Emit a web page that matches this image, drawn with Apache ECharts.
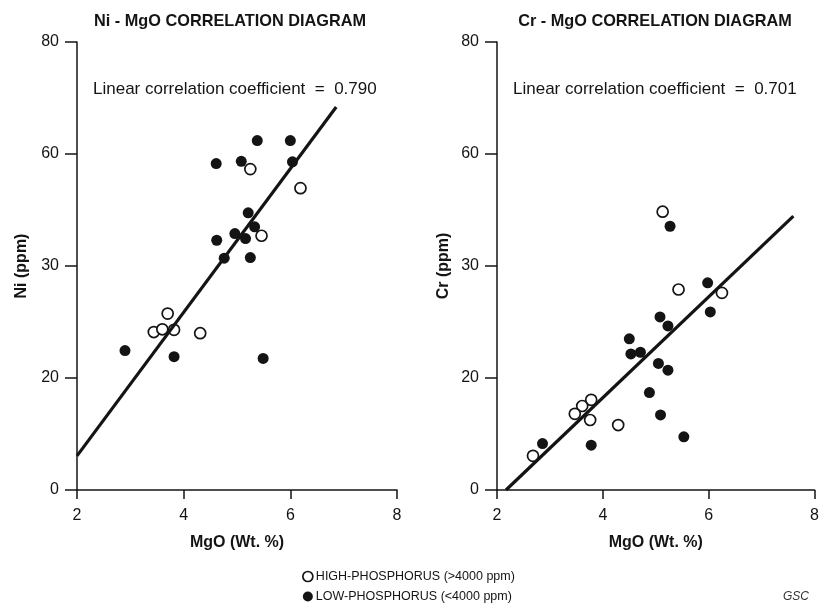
<!DOCTYPE html>
<html>
<head>
<meta charset="utf-8">
<script src="https://cdn.jsdelivr.net/npm/echarts@6/dist/echarts.min.js"></script>
<style>
html,body{margin:0;padding:0;background:#fff;}
#chart{width:822px;height:605px;}
</style>
</head>
<body>
<div id="chart"></div>
<script>
// ---- Data ----
var yTickLabels = ['0', '20', '30', '60', '80'];   // as printed on the original axes
var xTickValues = [2, 4, 6, 8];

// Ni - MgO diagram
var niHighMgO = [5.25, 6.19, 5.46, 3.70, 3.44, 3.60, 3.82, 4.31];
var niHighNi  = [57.3, 53.9, 45.4, 31.5, 28.2, 28.7, 28.6, 28.0];
var niLowMgO  = [5.38, 6.00, 4.61, 5.08, 6.04, 5.21, 5.33, 4.96, 5.16, 4.62, 4.76, 5.25, 2.90, 3.82, 5.49];
var niLowNi   = [62.4, 62.4, 58.3, 58.7, 58.6, 49.5, 47.0, 45.8, 44.9, 44.6, 41.4, 41.5, 24.9, 23.8, 23.5];
var niFitMgO  = [2.0, 6.86];
var niFitNi   = [6.1, 68.4];

// Cr - MgO diagram
var crHighMgO = [5.13, 5.43, 6.25, 3.78, 3.61, 3.47, 3.76, 4.29, 2.68];
var crHighCr  = [49.7, 35.8, 35.2, 16.1, 15.0, 13.6, 12.5, 11.6, 6.1];
var crLowMgO  = [5.27, 5.98, 6.03, 5.08, 5.23, 4.50, 4.53, 4.71, 5.05, 5.23, 4.88, 5.09, 5.53, 3.78, 2.86];
var crLowCr   = [47.1, 37.0, 31.8, 30.9, 29.3, 27.0, 24.3, 24.6, 22.6, 21.4, 17.4, 13.4, 9.5, 8.0, 8.3];
var crFitMgO  = [2.17, 7.60];
var crFitCr   = [0.0, 48.9];

var highName = 'HIGH-PHOSPHORUS (>4000 ppm)';
var lowName  = 'LOW-PHOSPHORUS (<4000 ppm)';
var titles = ['Ni - MgO CORRELATION DIAGRAM', 'Cr - MgO CORRELATION DIAGRAM'];
var corrTexts = ['Linear correlation coefficient  =  0.790', 'Linear correlation coefficient  =  0.701'];
var yNames = ['Ni (ppm)', 'Cr (ppm)'];
var xName = 'MgO (Wt. %)';

function zip(a, b) { return a.map(function (v, i) { return [v, b[i]]; }); }

var INK = '#141414';
var FONT = '"Liberation Sans", Arial, Helvetica, sans-serif';

function xAxisFor(gi) {
  return {
    gridIndex: gi, type: 'value', min: 2, max: 8, interval: 2,
    name: xName, nameLocation: 'middle', nameGap: 45,
    nameTextStyle: { fontFamily: FONT, fontSize: 16, fontWeight: 'bold', color: INK },
    axisLine: { onZero: false, lineStyle: { color: INK, width: 1.5 } },
    axisTick: { length: 9, lineStyle: { color: INK, width: 1.5 } },
    axisLabel: { margin: 18, fontFamily: FONT, fontSize: 16, color: INK,
      formatter: function (v) { return xTickValues.indexOf(v) >= 0 ? String(v) : ''; } },
    splitLine: { show: false }
  };
}
function yAxisFor(gi, nameGap) {
  return {
    gridIndex: gi, type: 'value', min: 0, max: 80, interval: 20,
    name: yNames[gi], nameLocation: 'middle', nameGap: nameGap, nameRotate: 90,
    nameTextStyle: { fontFamily: FONT, fontSize: 16, fontWeight: 'bold', color: INK },
    axisLine: { show: true, onZero: false, lineStyle: { color: INK, width: 1.5 } },
    axisTick: { show: true, length: 12, lineStyle: { color: INK, width: 1.5 } },
    axisLabel: { margin: 18, fontFamily: FONT, fontSize: 16, color: INK,
      formatter: function (v) { return yTickLabels[Math.round(v / 20)]; } },
    splitLine: { show: false }
  };
}

var openStyle = { color: '#ffffff', borderColor: INK, borderWidth: 1.7, opacity: 1 };
var filledStyle = { color: INK, borderColor: INK, borderWidth: 0, opacity: 1 };

var option = {
  backgroundColor: '#ffffff',
  animation: false,
  textStyle: { fontFamily: FONT },
  grid: [
    { left: 77, right: 822 - 397, top: 42, bottom: 605 - 490 },
    { left: 497, right: 822 - 819, top: 42, bottom: 605 - 490 }
  ],
  xAxis: [xAxisFor(0), xAxisFor(1)],
  yAxis: [yAxisFor(0, 47), yAxisFor(1, 45)],
  title: [
    { text: titles[0], left: 230, top: 14, textAlign: 'center', padding: 0,
      textStyle: { fontFamily: FONT, fontSize: 16.3, fontWeight: 'bold', color: INK } },
    { text: titles[1], left: 655, top: 14, textAlign: 'center', padding: 0,
      textStyle: { fontFamily: FONT, fontSize: 16.3, fontWeight: 'bold', color: INK } },
    { text: corrTexts[0], left: 93, top: 81, padding: 0,
      textStyle: { fontFamily: FONT, fontSize: 17, fontWeight: 'normal', color: INK } },
    { text: corrTexts[1], left: 513, top: 81, padding: 0,
      textStyle: { fontFamily: FONT, fontSize: 17, fontWeight: 'normal', color: INK } },
    { text: 'GSC', left: 783, top: 591, padding: 0,
      textStyle: { fontFamily: FONT, fontSize: 12, fontWeight: 'normal', fontStyle: 'italic', color: '#333' } }
  ],
  legend: {
    orient: 'vertical', left: 302, top: 570, padding: 0,
    itemWidth: 10, itemHeight: 10, itemGap: 7,
    textStyle: { fontFamily: FONT, fontSize: 12.5, color: INK, padding: [0, 0, 0, -2] },
    data: [
      { name: highName, icon: 'circle', itemStyle: openStyle },
      { name: lowName, icon: 'circle', itemStyle: filledStyle }
    ]
  },
  series: [
    { name: highName, type: 'scatter', xAxisIndex: 0, yAxisIndex: 0, symbol: 'circle', symbolSize: 11,
      itemStyle: openStyle, data: zip(niHighMgO, niHighNi), z: 2 },
    { name: lowName, type: 'scatter', xAxisIndex: 0, yAxisIndex: 0, symbol: 'circle', symbolSize: 11,
      itemStyle: filledStyle, data: zip(niLowMgO, niLowNi), z: 2 },
    { name: 'Ni fit', type: 'line', xAxisIndex: 0, yAxisIndex: 0, symbol: 'none',
      lineStyle: { color: INK, width: 3.2 }, data: zip(niFitMgO, niFitNi), z: 3 },
    { name: highName, type: 'scatter', xAxisIndex: 1, yAxisIndex: 1, symbol: 'circle', symbolSize: 11,
      itemStyle: openStyle, data: zip(crHighMgO, crHighCr), z: 2 },
    { name: lowName, type: 'scatter', xAxisIndex: 1, yAxisIndex: 1, symbol: 'circle', symbolSize: 11,
      itemStyle: filledStyle, data: zip(crLowMgO, crLowCr), z: 2 },
    { name: 'Cr fit', type: 'line', xAxisIndex: 1, yAxisIndex: 1, symbol: 'none',
      lineStyle: { color: INK, width: 3.2 }, data: zip(crFitMgO, crFitCr), z: 3 }
  ]
};

var chart = echarts.init(document.getElementById('chart'), null, { renderer: 'canvas' });
chart.setOption(option);
</script>
</body>
</html>
